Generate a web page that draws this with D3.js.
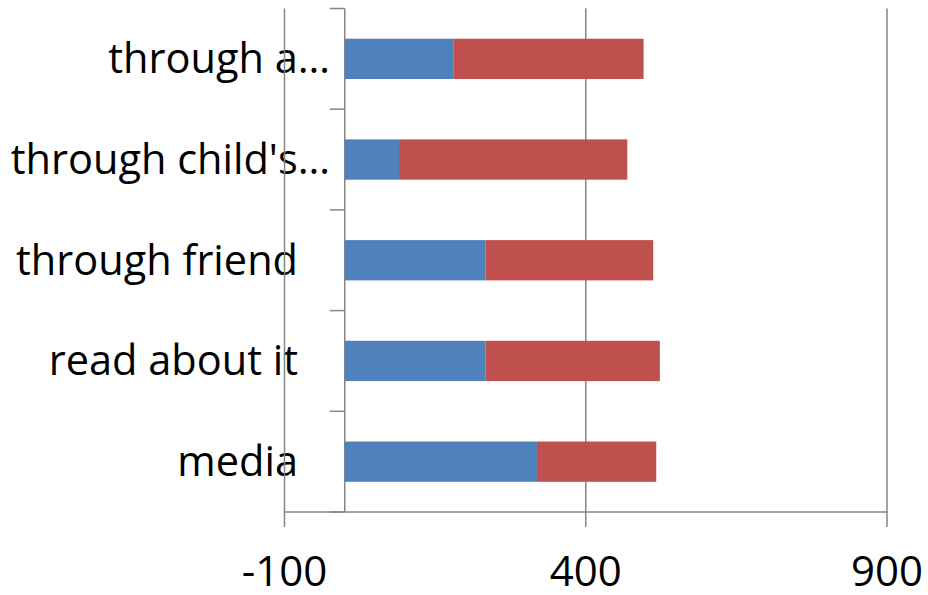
<!DOCTYPE html>
<html>
<head>
<meta charset="utf-8">
<script src="https://cdn.jsdelivr.net/npm/d3@7"></script>
<style>
html,body{margin:0;padding:0;background:#fff;}
svg{display:block;}
text{font-family:"Open Sans","Noto Sans",sans-serif;fill:#000;}
</style>
</head>
<body>
<svg id="chart" width="928" height="595"></svg>
<script>
const categories = ["through a\u2026", "through child's\u2026", "through friend", "read about it", "media"];
const series1 = [181, 90, 234, 234, 319];
const series2 = [315, 379, 278, 289, 198];
const xTicks = [-100, 400, 900];

const svg = d3.select("#chart");
const x = d3.scaleLinear().domain([-100, 900]).range([284.5, 887]);
const y = d3.scaleBand().domain(categories).range([8.5, 512]).paddingInner(0.6).paddingOuter(0.3);
const grey = "#868686";
const fontSize = 41.5;

// category labels
svg.append("g").selectAll("text").data(categories).join("text")
  .attr("x", d => d.endsWith("\u2026") ? 330 : 298)
  .attr("y", d => y(d) + y.bandwidth() / 2)
  .attr("dy", "0.35em")
  .attr("text-anchor", "end")
  .style("font-size", fontSize + "px")
  .text(d => d);

// vertical gridlines (with tick extension)
svg.append("g").selectAll("line").data(xTicks).join("line")
  .attr("x1", d => x(d)).attr("x2", d => x(d))
  .attr("y1", 8.5).attr("y2", 527)
  .attr("stroke", grey).attr("stroke-width", 1.5);

// horizontal axis line
svg.append("line")
  .attr("x1", x(-100)).attr("x2", x(900))
  .attr("y1", 512).attr("y2", 512)
  .attr("stroke", grey).attr("stroke-width", 1.5);

// category axis at 0
const x0 = x(0);
svg.append("line")
  .attr("x1", x0).attr("x2", x0).attr("y1", 8.5).attr("y2", 512)
  .attr("stroke", grey).attr("stroke-width", 1.5);
const bounds = categories.map(c => y(c) - y.step() * y.paddingInner() / 2);
bounds.push(512);
bounds[0] = 8.5;
svg.append("g").selectAll("line").data(bounds).join("line")
  .attr("x1", x0 - 15).attr("x2", x0)
  .attr("y1", d => d).attr("y2", d => d)
  .attr("stroke", grey).attr("stroke-width", 1.5);

// bars
const stack = categories.map((c, i) => ({c, a: series1[i], b: series2[i]}));
svg.append("g").selectAll("rect").data(stack).join("rect")
  .attr("x", d => x(0)).attr("y", d => y(d.c))
  .attr("width", d => x(d.a) - x(0)).attr("height", y.bandwidth())
  .attr("fill", "#4F81BD");
svg.append("g").selectAll("rect").data(stack).join("rect")
  .attr("x", d => x(d.a)).attr("y", d => y(d.c))
  .attr("width", d => x(d.a + d.b) - x(d.a)).attr("height", y.bandwidth())
  .attr("fill", "#C0504D");

// x tick labels
svg.append("g").selectAll("text").data(xTicks).join("text")
  .attr("x", d => x(d)).attr("y", 586)
  .attr("text-anchor", "middle")
  .style("font-size", "42px")
  .text(d => d);
</script>
</body>
</html>
